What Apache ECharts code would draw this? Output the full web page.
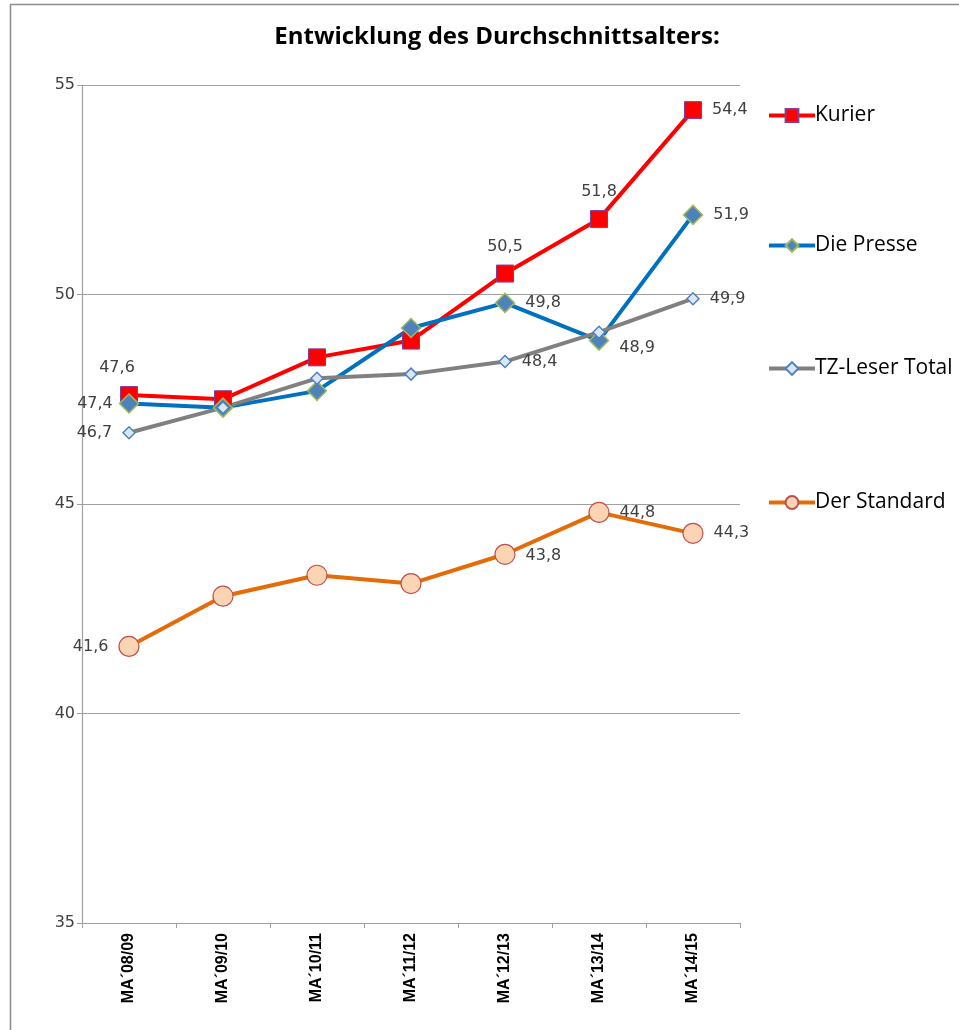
<!DOCTYPE html>
<html><head><meta charset="utf-8">
<script src="https://cdn.jsdelivr.net/npm/echarts@6/dist/echarts.min.js"></script>
<style>html,body{margin:0;padding:0;background:#fff}#c{width:959px;height:1030px}</style>
</head><body><div id="c"></div>
<script>
const categories = ["MA\u00B408/09","MA\u00B409/10","MA\u00B410/11","MA\u00B411/12","MA\u00B412/13","MA\u00B413/14","MA\u00B414/15"];
const kurier = [47.6, 47.5, 48.5, 48.9, 50.5, 51.8, 54.4];
const presse = [47.4, 47.3, 47.7, 49.2, 49.8, 48.9, 51.9];
const tzTotal = [46.7, 47.3, 48.0, 48.1, 48.4, 49.1, 49.9];
const standard = [41.6, 42.8, 43.3, 43.1, 43.8, 44.8, 44.3];
const yTicks = [35, 40, 45, 50, 55];
const seriesNames = ["Kurier", "Die Presse", "TZ-Leser Total", "Der Standard"];

// which points carry a label and where (style, kept apart from the data)
const labelPos = {
  "Kurier": {0: "top", 4: "top", 5: "top", 6: "right"},
  "Die Presse": {0: "left", 4: "right", 5: "right", 6: "right"},
  "TZ-Leser Total": {0: "left", 4: "right", 6: "right"},
  "Der Standard": {0: "left", 4: "right", 5: "right", 6: "right"}
};
const labelOffset = {
  "Kurier": {0: [-12, 0]},
  "Die Presse": {0: [4, 0], 5: [0, 7]},
  "Der Standard": {4: [0, 2]}
};

const styles = {
  "Kurier": {line: "#FF0000", symbol: "rect", size: 17, fill: "#FF0000", border: "#7F3F98", bw: 1},
  "Die Presse": {line: "#0070C0", symbol: "diamond", size: 19, fill: "#4F81BD", border: "#9BBB59", bw: 1.5},
  "TZ-Leser Total": {line: "#808080", symbol: "diamond", size: 12, fill: "#DCE6F2", border: "#4F81BD", bw: 1.5},
  "Der Standard": {line: "#E36C09", symbol: "circle", size: 20, fill: "#FBD4B4", border: "#C0504D", bw: 1.2}
};
const values = {"Kurier": kurier, "Die Presse": presse, "TZ-Leser Total": tzTotal, "Der Standard": standard};
const LFONT = "'DejaVu Sans', sans-serif";
const fmt = v => String(v.toFixed(1)).replace(".", ",");

const series = seriesNames.map(name => {
  const s = styles[name];
  return {
    name, type: "line",
    data: values[name].map((v, i) => {
      const pos = labelPos[name][i];
      const off = (labelOffset[name] || {})[i];
      return {
        value: v,
        label: pos ? Object.assign({show: true, position: pos}, off ? {offset: off} : {}) : {show: false}
      };
    }),
    symbol: s.symbol, symbolSize: s.size, showAllSymbol: true,
    lineStyle: {color: s.line, width: 4},
    itemStyle: {color: s.fill, borderColor: s.border, borderWidth: s.bw},
    label: {distance: 10, fontFamily: LFONT, fontSize: 16, color: "#404040", formatter: p => fmt(p.value)},
    emphasis: {disabled: true},
    animation: false
  };
});

const legendTops = [100, 230, 353, 487];
const legends = seriesNames.map((name, i) => ({
  data: [name], left: 762, top: legendTops[i], orient: "vertical",
  itemWidth: 46, itemHeight: 16, itemGap: 0,
  lineStyle: {width: 4},
  textStyle: {fontFamily: "'Open Sans', sans-serif", fontSize: 21, color: "#000", padding: [0, 0, 0, -5]},
  selectedMode: false
}));

const chart = echarts.init(document.getElementById("c"), null, {renderer: "canvas"});
chart.setOption({
  backgroundColor: "#fff",
  animation: false,
  title: {text: "Entwicklung des Durchschnittsalters:", left: 492, top: 20, textAlign: "center",
    textStyle: {fontFamily: "'Open Sans', sans-serif", fontSize: 24, fontWeight: "bold", color: "#000"}},
  legend: legends,
  graphic: [{type: "rect", shape: {x: 10.5, y: 4.5, width: 1000, height: 1100}, style: {fill: "none", stroke: "#8c8c8c", lineWidth: 1.5}, silent: true, z: -1}],
  grid: {left: 82, top: 85, width: 658, height: 838, containLabel: false},
  xAxis: {
    type: "category", data: categories, boundaryGap: true,
    axisLine: {lineStyle: {color: "#A0A0A0", width: 1.2}},
    axisTick: {show: true, alignWithLabel: false, length: 5, lineStyle: {color: "#A0A0A0"}},
    axisLabel: {rotate: 90, margin: 10, fontFamily: "'Liberation Sans', Arial, sans-serif", fontWeight: "bold", fontSize: 16, color: "#000"}
  },
  yAxis: {
    type: "value", min: yTicks[0], max: yTicks[yTicks.length - 1], interval: 5,
    axisLine: {show: true, lineStyle: {color: "#A0A0A0", width: 1.2}},
    axisTick: {show: true, length: 5, lineStyle: {color: "#A0A0A0"}},
    splitLine: {lineStyle: {color: "#A0A0A0", width: 1}},
    axisLabel: {margin: 7, fontFamily: LFONT, fontSize: 16, color: "#404040"}
  },
  series
});
</script></body></html>
